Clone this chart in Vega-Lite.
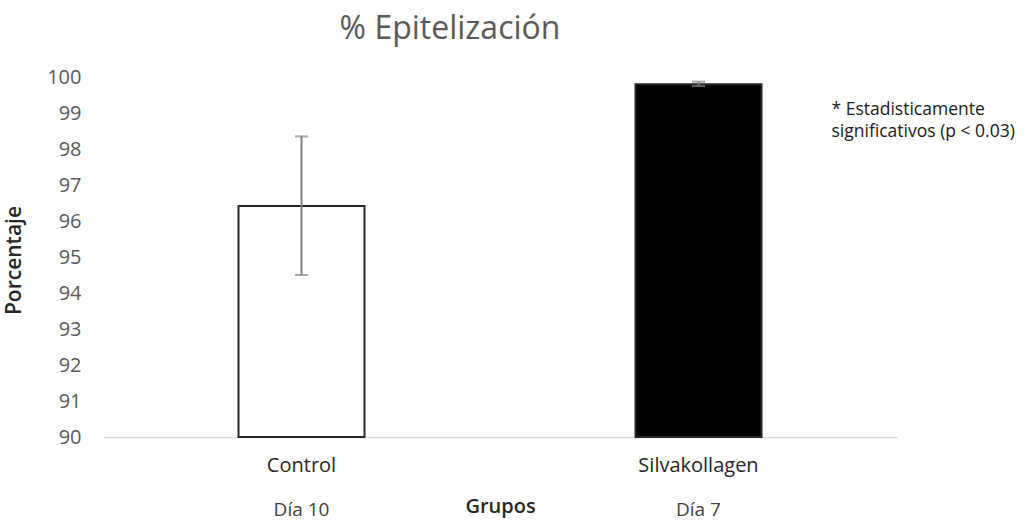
{
  "$schema": "https://vega.github.io/schema/vega-lite/v6.json",
  "autosize": "none",
  "width": 794,
  "height": 360,
  "padding": {"left": 103, "top": 77, "right": 127, "bottom": 87},
  "background": "white",
  "config": {"view": {"stroke": null}, "font": "Open Sans", "axisY": {"labelOverlap": false, "labelBound": false}, "axisX": {"labelOverlap": false}},
  "title": {
    "text": "% Epitelización",
    "fontSize": 32,
    "font": "Open Sans",
    "fontWeight": "normal",
    "color": "#595959",
    "frame": "group",
    "anchor": "middle",
    "dx": -50,
    "offset": 21
  },
  "data": {
    "values": [
      {"grupo": "Control", "dia": "Día 10", "valor": 96.42, "lo": 94.5, "hi": 98.35},
      {"grupo": "Silvakollagen", "dia": "Día 7", "valor": 99.8, "lo": 99.75, "hi": 99.87}
    ]
  },
  "encoding": {
    "x": {
      "field": "grupo",
      "type": "nominal",
      "sort": null,
      "scale": {"paddingInner": 0, "paddingOuter": 0},
      "axis": {
        "title": "Grupos",
        "titleFontSize": 20,
        "titleFontWeight": 600,
        "titleColor": "#262626",
        "titlePadding": 21,
        "labelAngle": 0,
        "labelFontSize": 20,
        "labelColor": "#262626",
        "labelPadding": 18,
        "ticks": false,
        "domainColor": "#d9d9d9",
        "domainWidth": 1.5,
        "grid": false
      }
    }
  },
  "layer": [
    {
      "mark": {"type": "bar", "size": 126, "stroke": "#262626", "strokeWidth": 2},
      "encoding": {
        "y": {
          "field": "valor",
          "type": "quantitative",
          "scale": {"domain": [90, 100], "zero": false, "nice": false},
          "axis": {
            "title": "Porcentaje",
            "titleFontSize": 21,
            "titleFontWeight": 600,
            "titleColor": "#262626",
            "titleX": -79,
            "titleY": 183,
            "values": [90, 91, 92, 93, 94, 95, 96, 97, 98, 99, 100],
            "labelOverlap": false,
            "labelFontSize": 20,
            "labelColor": "#595959",
            "labelPadding": 22,
            "ticks": false,
            "domain": false,
            "grid": false
          }
        },
        "y2": {"datum": 90},
        "color": {
          "field": "grupo",
          "type": "nominal",
          "scale": {"domain": ["Control", "Silvakollagen"], "range": ["#ffffff", "#000000"]},
          "legend": null
        }
      }
    },
    {
      "mark": {
        "type": "errorbar",
        "thickness": 2,
        "color": "#808080",
        "ticks": {"size": 13, "color": "#808080", "thickness": 2}
      },
      "encoding": {
        "y": {
          "field": "lo",
          "type": "quantitative",
          "axis": {
            "title": "Porcentaje",
            "titleFontSize": 21,
            "titleFontWeight": 600,
            "titleColor": "#262626",
            "titleX": -79,
            "titleY": 183,
            "values": [90, 91, 92, 93, 94, 95, 96, 97, 98, 99, 100],
            "labelOverlap": false,
            "labelFontSize": 20,
            "labelColor": "#595959",
            "labelPadding": 22,
            "ticks": false,
            "domain": false,
            "grid": false
          }
        },
        "y2": {"field": "hi"}
      }
    },
    {
      "mark": {"type": "text", "fontSize": 19, "color": "#404040", "dy": 73, "baseline": "middle"},
      "encoding": {
        "y": {
          "datum": 90,
          "type": "quantitative",
          "axis": {
            "title": "Porcentaje",
            "titleFontSize": 21,
            "titleFontWeight": 600,
            "titleColor": "#262626",
            "titleX": -79,
            "titleY": 183,
            "values": [90, 91, 92, 93, 94, 95, 96, 97, 98, 99, 100],
            "labelOverlap": false,
            "labelFontSize": 20,
            "labelColor": "#595959",
            "labelPadding": 22,
            "ticks": false,
            "domain": false,
            "grid": false
          }
        },
        "text": {"field": "dia"}
      }
    },
    {
      "data": {"values": [{"grupo": "Silvakollagen", "nota": ["* Estadisticamente", "significativos (p < 0.03)"], "yv": 99.07}]},
      "mark": {"type": "text", "fontSize": 17.5, "color": "#1a1a1a", "align": "left", "dx": 133, "baseline": "middle", "lineHeight": 22},
      "encoding": {
        "y": {
          "field": "yv",
          "type": "quantitative",
          "axis": {
            "title": "Porcentaje",
            "titleFontSize": 21,
            "titleFontWeight": 600,
            "titleColor": "#262626",
            "titleX": -79,
            "titleY": 183,
            "values": [90, 91, 92, 93, 94, 95, 96, 97, 98, 99, 100],
            "labelOverlap": false,
            "labelFontSize": 20,
            "labelColor": "#595959",
            "labelPadding": 22,
            "ticks": false,
            "domain": false,
            "grid": false
          }
        },
        "text": {"field": "nota"}
      }
    }
  ]
}
